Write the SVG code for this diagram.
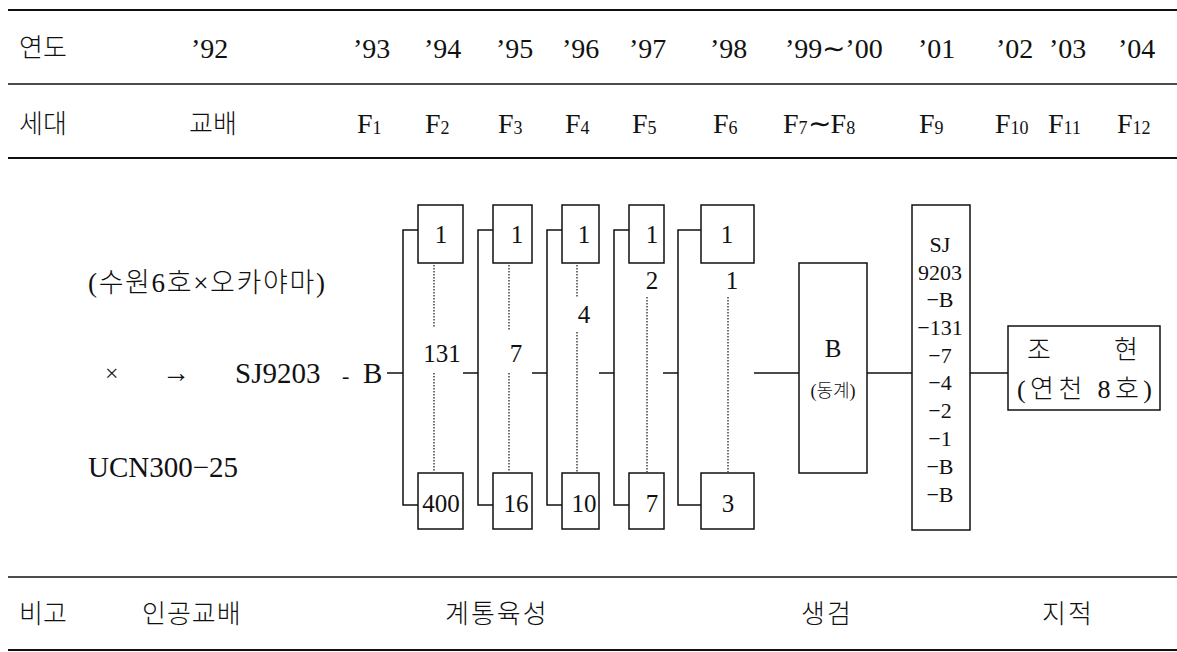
<svg xmlns="http://www.w3.org/2000/svg" width="1177" height="652" viewBox="0 0 1177 652">
<style>
.t{font-family:"Liberation Serif","Noto Sans CJK KR",serif;fill:#111;font-weight:300}
.k{font-family:"Noto Sans CJK KR","Liberation Serif",sans-serif;fill:#111;font-weight:300}
.h{font-size:28px}
.kh{font-size:26px}
.n{font-size:25px;text-anchor:middle}
.s{font-size:18px}
.box{fill:none;stroke:#111;stroke-width:1.5}
.ln{fill:none;stroke:#111;stroke-width:1.5}
.dot{fill:none;stroke:#111;stroke-width:1.2;stroke-dasharray:1.5 1.5}
.rule{stroke:#111;fill:none}
</style>
<rect width="1177" height="652" fill="#fff"/>
<g id="table-rules">
<line class="rule" x1="8" y1="10" x2="1177" y2="10" stroke-width="2.2"/>
<line class="rule" x1="8" y1="84" x2="1177" y2="84" stroke-width="1.3"/>
<line class="rule" x1="8" y1="158" x2="1177" y2="158" stroke-width="2.2"/>
<line class="rule" x1="8" y1="577" x2="1177" y2="577" stroke-width="1.6"/>
<line class="rule" x1="8" y1="650" x2="1177" y2="650" stroke-width="2.2"/>
</g>
<g id="row-year">
<text class="k kh" x="19" y="57">연도</text>
<text class="t h" x="191" y="58">’92</text>
<text class="t h" x="353" y="58">’93</text>
<text class="t h" x="424" y="58">’94</text>
<text class="t h" x="496" y="58">’95</text>
<text class="t h" x="562" y="58">’96</text>
<text class="t h" x="629" y="58">’97</text>
<text class="t h" x="710" y="58">’98</text>
<text class="t h" x="785" y="58">’99∼’00</text>
<text class="t h" x="918" y="58">’01</text>
<text class="t h" x="996" y="58">’02</text>
<text class="t h" x="1049" y="58">’03</text>
<text class="t h" x="1118" y="58">’04</text>
</g>
<g id="row-generation">
<text class="k kh" x="19" y="133">세대</text>
<text class="k kh" x="189" y="133">교배</text>
<text class="t h" x="357" y="133">F<tspan class="s" dy="1">1</tspan></text>
<text class="t h" x="425" y="133">F<tspan class="s" dy="1">2</tspan></text>
<text class="t h" x="498" y="133">F<tspan class="s" dy="1">3</tspan></text>
<text class="t h" x="565" y="133">F<tspan class="s" dy="1">4</tspan></text>
<text class="t h" x="632" y="133">F<tspan class="s" dy="1">5</tspan></text>
<text class="t h" x="713" y="133">F<tspan class="s" dy="1">6</tspan></text>
<text class="t h" x="783" y="133">F<tspan class="s" dy="1">7</tspan><tspan dy="-1">∼F</tspan><tspan class="s" dy="1">8</tspan></text>
<text class="t h" x="919" y="133">F<tspan class="s" dy="1">9</tspan></text>
<text class="t h" x="995" y="133">F<tspan class="s" dy="1">10</tspan></text>
<text class="t h" x="1048" y="133">F<tspan class="s" dy="1">11</tspan></text>
<text class="t h" x="1117" y="133">F<tspan class="s" dy="1">12</tspan></text>
</g>
<g id="row-remarks">
<text class="k kh" x="19" y="623">비고</text>
<text class="k kh" x="142" y="623" letter-spacing="1">인공교배</text>
<text class="k kh" x="445" y="623" letter-spacing="2">계통육성</text>
<text class="k kh" x="801" y="623" letter-spacing="2">생검</text>
<text class="k kh" x="1042" y="623" letter-spacing="2">지적</text>
</g>
<g id="parents">
<text class="t" font-size="27" x="88" y="292" textLength="237" lengthAdjust="spacing">(수원6호×오카야마)</text>
<text class="t" font-size="24" x="105" y="381">×</text>
<text class="t" font-size="28" x="162" y="382">→</text>
<text class="t" font-size="29" x="235" y="383">SJ9203<tspan x="342" font-size="22">-</tspan><tspan x="363">B</tspan></text>
<text class="t" font-size="29" x="88" y="477">UCN300−25</text>
</g>
<g id="connectors">
<path class="ln" d="M387 373H403M463 373H478M532 373H547M599 373H614M663 373H678M754 373H799M867 373H912M970 373H1008"/>
<path class="ln" d="M418 230H403V505H418M493 230H478V505H493M562 230H547V505H562M629 230H614V505H629M701 230H678V505H701"/>
<path class="dot" d="M434 265V328M434 373V472M509 265V330M509 373V472M577 265V297M577 332V472M647 297V472M728 297V472"/>
</g>
<g id="col1">
<rect class="box" x="418" y="205" width="45" height="58"/>
<rect class="box" x="418" y="473" width="45" height="56"/>
<text class="t n" x="441" y="243">1</text>
<text class="t n" x="442" y="362">131</text>
<text class="t n" x="441" y="512">400</text>
</g>
<g id="col2">
<rect class="box" x="493" y="205" width="39" height="58"/>
<rect class="box" x="493" y="473" width="39" height="56"/>
<text class="t n" x="517" y="243">1</text>
<text class="t n" x="516" y="362">7</text>
<text class="t n" x="516" y="512">16</text>
</g>
<g id="col3">
<rect class="box" x="562" y="205" width="37" height="58"/>
<rect class="box" x="562" y="473" width="37" height="56"/>
<text class="t n" x="584" y="243">1</text>
<text class="t n" x="584" y="323">4</text>
<text class="t n" x="584" y="512">10</text>
</g>
<g id="col4">
<rect class="box" x="629" y="205" width="35" height="58"/>
<rect class="box" x="629" y="473" width="35" height="56"/>
<text class="t n" x="652" y="243">1</text>
<text class="t n" x="652" y="289">2</text>
<text class="t n" x="652" y="512">7</text>
</g>
<g id="col5">
<rect class="box" x="701" y="205" width="53" height="58"/>
<rect class="box" x="701" y="473" width="53" height="56"/>
<text class="t n" x="727" y="243">1</text>
<text class="t n" x="732" y="289">1</text>
<text class="t n" x="728" y="512">3</text>
</g>
<g id="bulk-B">
<rect class="box" x="799" y="263" width="68" height="210"/>
<text class="t n" x="833" y="357">B</text>
<text class="t" font-size="18" text-anchor="middle" x="833" y="397">(동계)</text>
</g>
<g id="line-SJ9203">
<rect class="box" x="912" y="205" width="58" height="325"/>
<g class="t" font-size="22" text-anchor="middle">
<text x="940" y="252">SJ</text>
<text x="940" y="280">9203</text>
<text x="940" y="307">−B</text>
<text x="940" y="335">−131</text>
<text x="940" y="363">−7</text>
<text x="940" y="390">−4</text>
<text x="940" y="418">−2</text>
<text x="940" y="446">−1</text>
<text x="940" y="474">−B</text>
<text x="940" y="502">−B</text>
</g>
</g>
<g id="johyeon">
<rect class="box" x="1008" y="326" width="152" height="84"/>
<text class="k" font-size="26" x="1027" y="359" textLength="111" lengthAdjust="spacing">조 현</text>
<text class="t" font-size="26" x="1017" y="398" textLength="135" lengthAdjust="spacing">(연천 8호)</text>
</g>
</svg>
